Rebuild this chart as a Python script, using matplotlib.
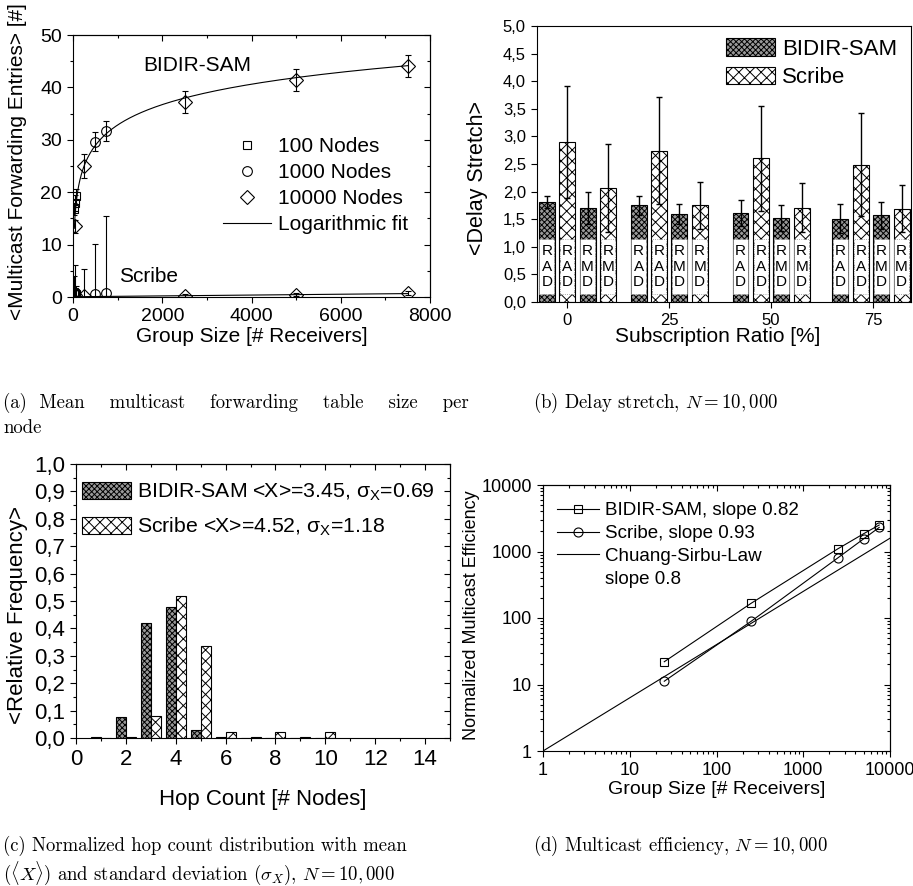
import matplotlib
matplotlib.use("Agg")
import matplotlib.pyplot as plt
import numpy as np
from matplotlib.lines import Line2D
from matplotlib.patches import Patch
from matplotlib.ticker import FuncFormatter, MultipleLocator, LogLocator, NullFormatter

plt.rcParams["font.family"] = ["Liberation Sans", "DejaVu Sans"]
plt.rcParams["mathtext.fontset"] = "custom"
plt.rcParams["mathtext.rm"] = "Liberation Sans"
plt.rcParams["mathtext.it"] = "Liberation Sans:italic"
plt.rcParams["hatch.linewidth"] = 0.7

W, H = 913, 886

# ---- (a) forwarding table size ----
size_100 = [25, 50, 75]
bidir_100 = [16.8, 18.0, 19.2]
bidir_100_err = [1.2, 1.5, 1.5]
scribe_100 = [1.0, 0.8, 0.6]
scribe_100_err = [3.0, 5.3, 1.5]

size_1000 = [500, 750]
bidir_1000 = [29.6, 31.7]
bidir_1000_err = [1.8, 1.9]
scribe_1000 = [0.5, 0.7]
scribe_1000_err = [9.6, 14.7]

size_10000 = [50, 250, 2500, 5000, 7500]
bidir_10000 = [13.5, 25.0, 37.3, 41.5, 44.1]
bidir_10000_err = [1.2, 2.2, 2.1, 2.1, 2.1]
scribe_10000 = [0.3, 0.2, 0.2, 0.45, 0.75]
scribe_10000_err = [1.0, 5.1, 0.3, 0.3, 0.3]

fit_range = [30, 7500]
bidir_fit = (-6.0, 5.62)      # a + b*ln(x)
scribe_fit = (0.05, 0.00008)  # a + b*x

# ---- (b) delay stretch ----
ratios = [0, 25, 50, 75]
group_start = [-5, 17.5, 42.5, 67]
bidir_rad = [1.81, 1.75, 1.61, 1.51]
bidir_rad_err = [0.11, 0.17, 0.23, 0.26]
scribe_rad = [2.90, 2.74, 2.60, 2.49]
scribe_rad_err = [1.02, 0.97, 0.95, 0.93]
bidir_rmd = [1.70, 1.60, 1.52, 1.57]
bidir_rmd_err = [0.29, 0.18, 0.23, 0.24]
scribe_rmd = [2.06, 1.75, 1.71, 1.69]
scribe_rmd_err = [0.80, 0.43, 0.44, 0.43]

# ---- (c) hop count ----
hops = [1, 2, 3, 4, 5, 6, 7, 8, 9, 10]
bidir_freq = [0.003, 0.075, 0.42, 0.477, 0.030, 0.003, 0.0, 0.0, 0.0, 0.0]
scribe_freq = [0.0, 0.003, 0.080, 0.517, 0.336, 0.023, 0.002, 0.023, 0.002, 0.023]

# ---- (d) multicast efficiency ----
group_size = [25, 250, 2500, 5000, 7500]
bidir_eff = [22, 166, 1096, 1860, 2500]
scribe_eff = [11.2, 89, 800, 1560, 2300]
cs_slope = 0.8

BIDIR_STYLE = dict(facecolor="0.6", edgecolor="black", hatch="xxxxxx", linewidth=0.8)
SCRIBE_STYLE = dict(facecolor="white", edgecolor="black", hatch="xxx", linewidth=0.8)


def box(l, t, r, b):
    """pixel box -> figure fraction rect"""
    return [l / W, 1 - b / H, (r - l) / W, (b - t) / H]


def fig_text(x, y, s, **kw):
    fig.text(x / W, 1 - y / H, s, ha="center", va="center", **kw)


def origin_frame(ax, fs):
    # Origin style: ticks out on left/bottom, in on top/right
    ax.tick_params(which="both", direction="out", labelsize=fs)
    ax.tick_params(which="major", length=4.5, width=0.8)
    ax.tick_params(which="minor", length=2.5, width=0.8)
    top = ax.secondary_xaxis("top")
    right = ax.secondary_yaxis("right")
    top.xaxis.set_major_locator(ax.xaxis.get_major_locator())
    top.xaxis.set_minor_locator(ax.xaxis.get_minor_locator())
    right.yaxis.set_major_locator(ax.yaxis.get_major_locator())
    right.yaxis.set_minor_locator(ax.yaxis.get_minor_locator())
    for sec in (top, right):
        sec.tick_params(which="both", direction="in", labeltop=False, labelright=False)
        sec.tick_params(which="major", length=4.5, width=0.8)
        sec.tick_params(which="minor", length=2.5, width=0.8)


def comma(v, pos):
    return f"{v:.1f}".replace(".", ",")


fig = plt.figure(figsize=(W / 100, H / 100), dpi=100)

# ================= (a) =================
ax = fig.add_axes(box(73, 35, 430, 297))
eb = dict(mfc="none", mec="black", mew=0.8, ecolor="black", elinewidth=0.8, capsize=2.5, capthick=0.8, ls="none")
for x, y, e in ((size_100, bidir_100, bidir_100_err), (size_100, scribe_100, scribe_100_err)):
    ax.errorbar(x, y, yerr=e, fmt="s", ms=5.5, **eb)
for x, y, e in ((size_1000, bidir_1000, bidir_1000_err), (size_1000, scribe_1000, scribe_1000_err)):
    ax.errorbar(x, y, yerr=e, fmt="o", ms=7, **eb)
for x, y, e in ((size_10000, bidir_10000, bidir_10000_err), (size_10000, scribe_10000, scribe_10000_err)):
    ax.errorbar(x, y, yerr=e, fmt="D", ms=7, **eb)

xf = np.geomspace(fit_range[0], fit_range[1], 300)
ax.plot(xf, bidir_fit[0] + bidir_fit[1] * np.log(xf), color="black", lw=0.8)
xs = np.linspace(0, fit_range[1], 50)
ax.plot(xs, scribe_fit[0] + scribe_fit[1] * xs, color="black", lw=0.8)

ax.set_xlim(0, 8000)
ax.set_ylim(0, 50)
ax.xaxis.set_major_locator(MultipleLocator(2000))
ax.xaxis.set_minor_locator(MultipleLocator(1000))
ax.yaxis.set_major_locator(MultipleLocator(10))
ax.yaxis.set_minor_locator(MultipleLocator(5))
origin_frame(ax, 14)
ax.text(2780, 44.1, "BIDIR-SAM", ha="center", va="center", fontsize=15)
ax.text(1690, 3.9, "Scribe", ha="center", va="center", fontsize=15)

handles = [
    Line2D([], [], marker="s", ls="none", mfc="none", mec="black", ms=5.5, mew=0.8),
    Line2D([], [], marker="o", ls="none", mfc="none", mec="black", ms=7, mew=0.8),
    Line2D([], [], marker="D", ls="none", mfc="none", mec="black", ms=7, mew=0.8),
    Line2D([], [], color="black", lw=0.8),
]
ax.legend(handles, ["100 Nodes", "1000 Nodes", "10000 Nodes", "Logarithmic fit"],
          loc="upper left", bbox_to_anchor=(0.42, 0.61), frameon=False, fontsize=15,
          handlelength=2.3, handletextpad=0.35, labelspacing=0.33, borderpad=0, borderaxespad=0)
fig_text(18, 162, "<Multicast Forwarding Entries> [#]", rotation=90, fontsize=15)
fig_text(252, 336, "Group Size [# Receivers]", fontsize=15)

# ================= (b) =================
ax = fig.add_axes(box(537, 26, 911, 302))
bw = 3.9
starts = np.array(group_start)
series = [
    (starts, bidir_rad, bidir_rad_err, BIDIR_STYLE, "R\nA\nD"),
    (starts + 5, scribe_rad, scribe_rad_err, SCRIBE_STYLE, "R\nA\nD"),
    (starts + 10, bidir_rmd, bidir_rmd_err, BIDIR_STYLE, "R\nM\nD"),
    (starts + 15, scribe_rmd, scribe_rmd_err, SCRIBE_STYLE, "R\nM\nD"),
]
for xpos, vals, errs, style, lbl in series:
    ax.bar(xpos, vals, bw, zorder=2, **style)
    ax.bar(xpos, [1.0] * len(xpos), bw * 0.92, bottom=0.15, color="white",
           edgecolor="0.55", linestyle=":", linewidth=0.6, zorder=3)
    for xp in xpos:
        ax.text(xp, 0.64, lbl, ha="center", va="center", fontsize=11, linespacing=1.15, zorder=4)
    ax.errorbar(xpos, vals, yerr=errs, fmt="none", ecolor="black", elinewidth=1.0,
                capsize=2.5, capthick=1.0, zorder=5)

ax.set_xlim(-7.4, 84.3)
ax.set_ylim(0, 5)
ax.set_xticks(ratios)
ax.yaxis.set_major_locator(MultipleLocator(0.5))
ax.yaxis.set_major_formatter(FuncFormatter(comma))
ax.tick_params(direction="out", length=4.5, width=0.8, labelsize=12)
ax.legend([Patch(**BIDIR_STYLE), Patch(**SCRIBE_STYLE)], ["BIDIR-SAM", "Scribe"],
          loc="upper right", bbox_to_anchor=(0.962, 0.955), frameon=False, fontsize=16,
          handlelength=2.2, handleheight=0.85, handletextpad=0.3, labelspacing=0.3,
          borderpad=0, borderaxespad=0)
fig_text(478, 178, "<Delay Stretch>", rotation=90, fontsize=15.5)
fig_text(718, 337, "Subscription Ratio [%]", fontsize=15)

# ================= (c) =================
ax = fig.add_axes(box(76, 464, 450, 738))
hp = np.array(hops)
ax.bar(hp - 0.2, bidir_freq, 0.4, **BIDIR_STYLE)
ax.bar(hp + 0.2, scribe_freq, 0.4, **SCRIBE_STYLE)
ax.set_xlim(0, 15)
ax.set_ylim(0, 1)
ax.xaxis.set_major_locator(MultipleLocator(2))
ax.xaxis.set_minor_locator(MultipleLocator(1))
ax.yaxis.set_major_locator(MultipleLocator(0.1))
ax.yaxis.set_minor_locator(MultipleLocator(0.05))
ax.yaxis.set_major_formatter(FuncFormatter(comma))
origin_frame(ax, 16)
ax.legend([Patch(**BIDIR_STYLE), Patch(**SCRIBE_STYLE)],
          ["BIDIR-SAM <X>=3.45, σ$_{\\rm X}$=0.69", "Scribe <X>=4.52, σ$_{\\rm X}$=1.18"],
          loc="upper left", bbox_to_anchor=(0.016, 0.935), frameon=False, fontsize=15.3,
          handlelength=2.3, handleheight=0.9, handletextpad=0.3, labelspacing=0.6,
          borderpad=0, borderaxespad=0)
fig_text(18, 615, "<Relative Frequency>", rotation=90, fontsize=16)
fig_text(263, 800, "Hop Count [# Nodes]", fontsize=16)

# ================= (d) =================
ax = fig.add_axes(box(543, 485, 890, 751))
ax.set_xscale("log")
ax.set_yscale("log")
mk = dict(color="black", lw=0.8, mfc="none", mec="black", mew=0.8)
ax.plot(group_size, bidir_eff, marker="s", ms=6, **mk)
ax.plot(group_size, scribe_eff, marker="o", ms=6.5, **mk)
xl = np.array([1, 10000])
ax.plot(xl, xl ** cs_slope, color="black", lw=0.8)
ax.set_xlim(1, 10000)
ax.set_ylim(1, 10000)
for axis in (ax.xaxis, ax.yaxis):
    axis.set_major_locator(LogLocator(base=10, numticks=10))
    axis.set_minor_locator(LogLocator(base=10, subs=np.arange(2, 10), numticks=20))
    axis.set_major_formatter(FuncFormatter(lambda v, p: f"{v:g}"))
    axis.set_minor_formatter(NullFormatter())
origin_frame(ax, 13)
ax.legend([Line2D([], [], marker="s", ms=6, **mk), Line2D([], [], marker="o", ms=6.5, **mk),
           Line2D([], [], color="black", lw=0.8), Line2D([], [], ls="none")],
          ["BIDIR-SAM, slope 0.82", "Scribe, slope 0.93", "Chuang-Sirbu-Law", "slope 0.8"],
          loc="upper left", bbox_to_anchor=(0.04, 0.935), frameon=False, fontsize=13.5,
          handlelength=2.25, handletextpad=0.3, labelspacing=0.3, borderpad=0, borderaxespad=0)
fig_text(471, 615, "Normalized Multicast Efficiency", rotation=90, fontsize=13)
fig_text(717, 790, "Group Size [# Receivers]", fontsize=14)

# ================= captions =================
cap = dict(family="cmr10", math_fontfamily="cm", fontsize=13.5, va="center", ha="left")
fig.text(3 / W, 1 - 403 / H, "(a)  Mean    multicast    forwarding    table    size    per", **cap)
fig.text(3 / W, 1 - 428 / H, "node", **cap)
fig.text(533 / W, 1 - 403 / H, r"(b) Delay stretch, $N=10,000$", **cap)
fig.text(3 / W, 1 - 846 / H, "(c) Normalized hop count distribution with mean", **cap)
fig.text(3 / W, 1 - 873 / H, r"$(\langle X\rangle)$ and standard deviation $(\sigma_X)$, $N=10,000$", **cap)
fig.text(533 / W, 1 - 846 / H, r"(d) Multicast efficiency, $N=10,000$", **cap)

fig.savefig("out.png", dpi=100)
